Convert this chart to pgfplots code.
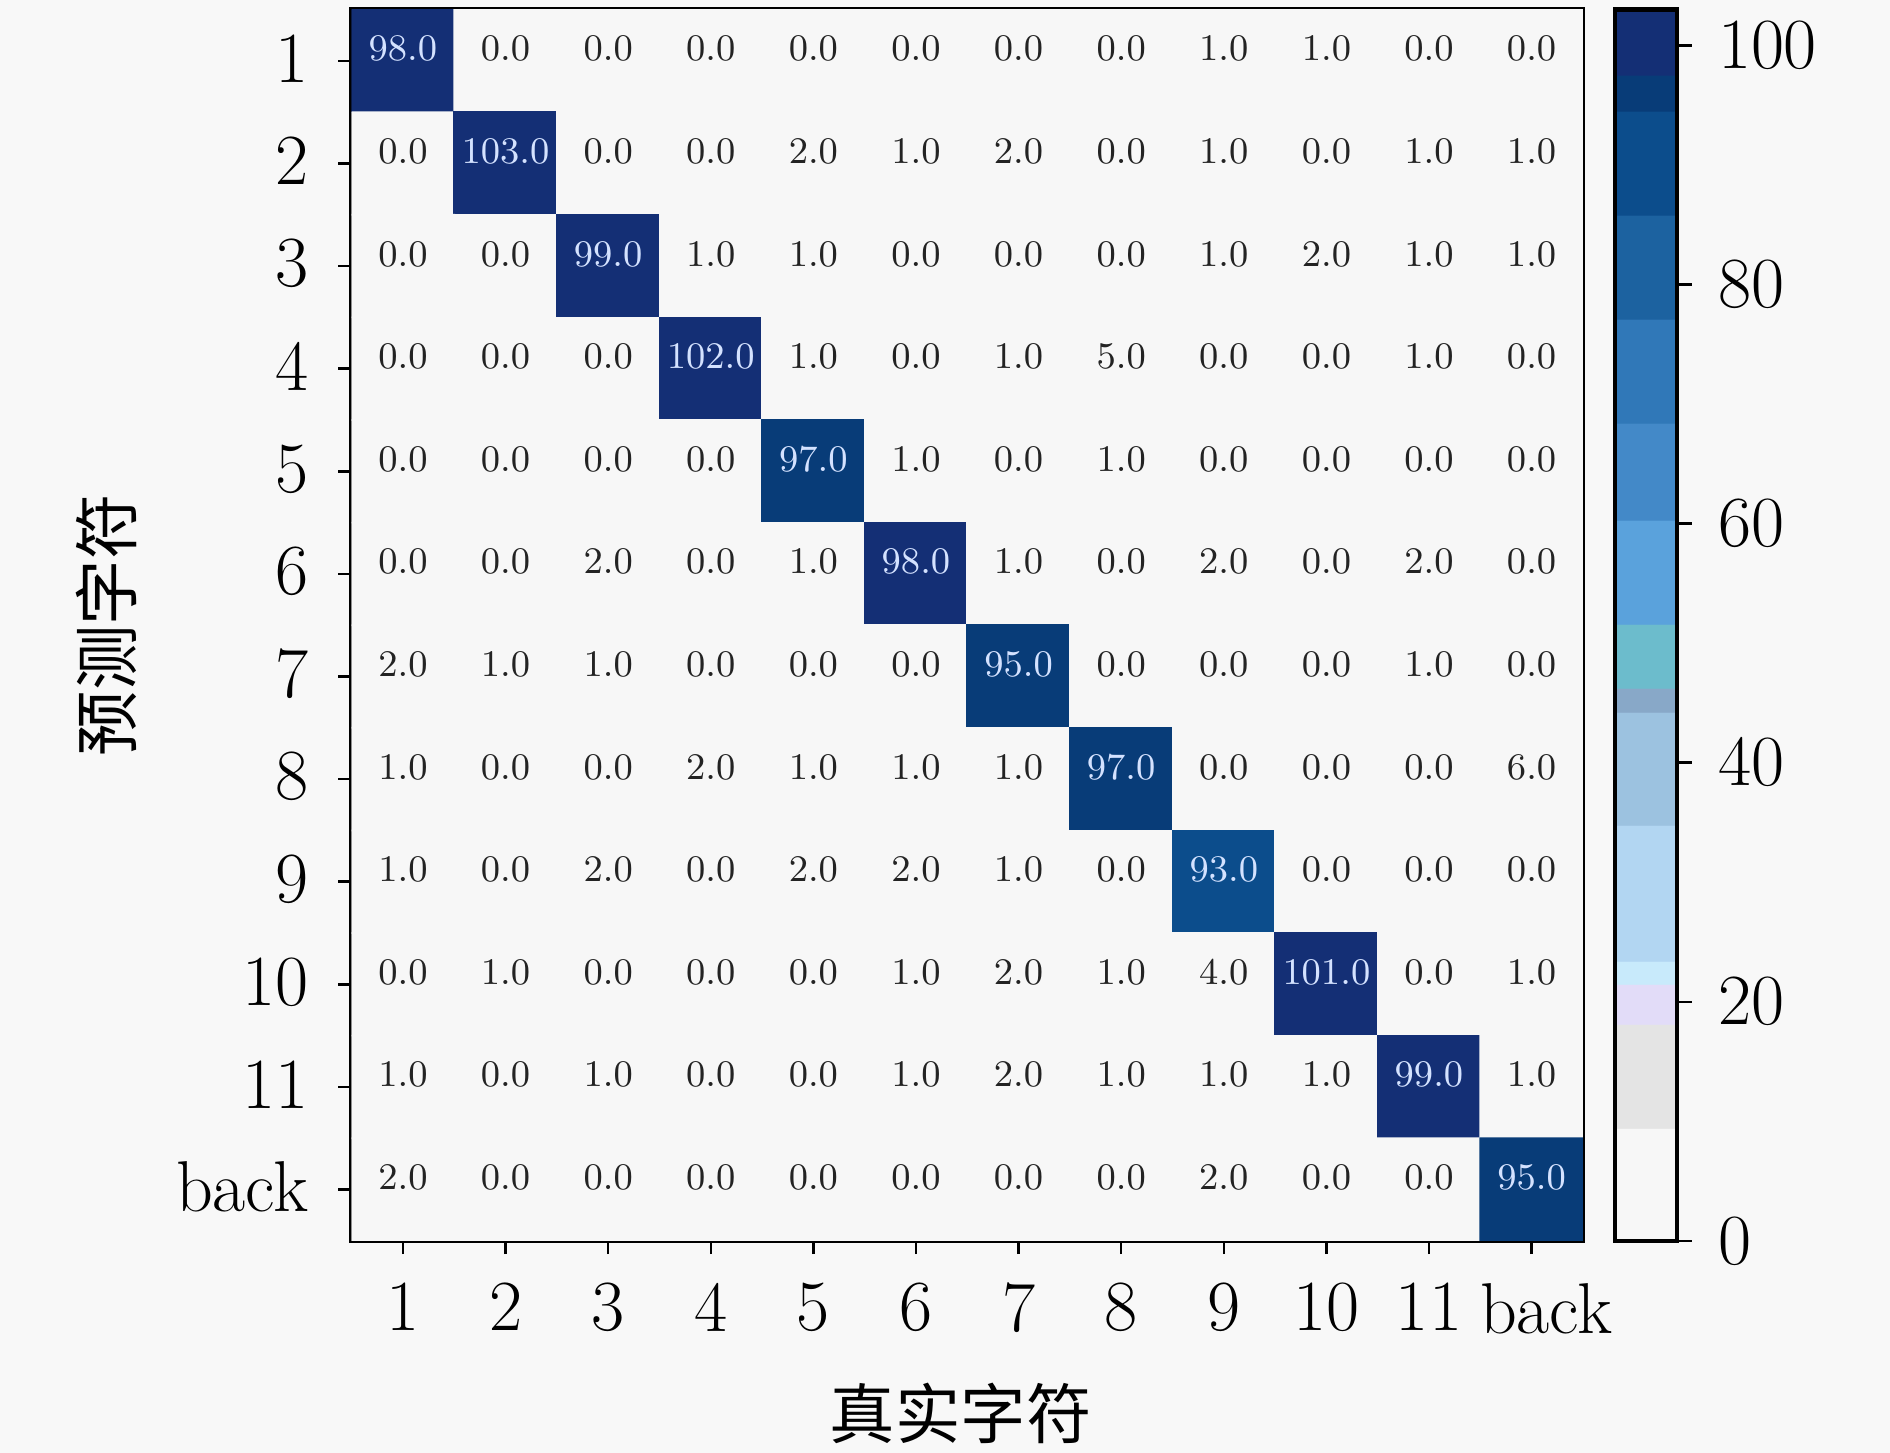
\documentclass[border=0pt]{standalone}
\usepackage{fontspec}
\newfontfamily\cjk{Noto Sans CJK SC}
\usepackage{pgfplots}
\usepackage{pgfplotstable}
\pgfplotsset{compat=1.18}
\definecolor{bg}{RGB}{248,248,248}
\definecolor{diagtxt}{RGB}{212,226,255}
\definecolor{offtxt}{RGB}{35,35,35}
% full confusion matrix: x = true class, y = predicted class
\pgfplotstableread{
x y v
0 0 98
1 0 0
2 0 0
3 0 0
4 0 0
5 0 0
6 0 0
7 0 0
8 0 1
9 0 1
10 0 0
11 0 0
0 1 0
1 1 103
2 1 0
3 1 0
4 1 2
5 1 1
6 1 2
7 1 0
8 1 1
9 1 0
10 1 1
11 1 1
0 2 0
1 2 0
2 2 99
3 2 1
4 2 1
5 2 0
6 2 0
7 2 0
8 2 1
9 2 2
10 2 1
11 2 1
0 3 0
1 3 0
2 3 0
3 3 102
4 3 1
5 3 0
6 3 1
7 3 5
8 3 0
9 3 0
10 3 1
11 3 0
0 4 0
1 4 0
2 4 0
3 4 0
4 4 97
5 4 1
6 4 0
7 4 1
8 4 0
9 4 0
10 4 0
11 4 0
0 5 0
1 5 0
2 5 2
3 5 0
4 5 1
5 5 98
6 5 1
7 5 0
8 5 2
9 5 0
10 5 2
11 5 0
0 6 2
1 6 1
2 6 1
3 6 0
4 6 0
5 6 0
6 6 95
7 6 0
8 6 0
9 6 0
10 6 1
11 6 0
0 7 1
1 7 0
2 7 0
3 7 2
4 7 1
5 7 1
6 7 1
7 7 97
8 7 0
9 7 0
10 7 0
11 7 6
0 8 1
1 8 0
2 8 2
3 8 0
4 8 2
5 8 2
6 8 1
7 8 0
8 8 93
9 8 0
10 8 0
11 8 0
0 9 0
1 9 1
2 9 0
3 9 0
4 9 0
5 9 1
6 9 2
7 9 1
8 9 4
9 9 101
10 9 0
11 9 1
0 10 1
1 10 0
2 10 1
3 10 0
4 10 0
5 10 1
6 10 2
7 10 1
8 10 1
9 10 1
10 10 99
11 10 1
0 11 2
1 11 0
2 11 0
3 11 0
4 11 0
5 11 0
6 11 0
7 11 0
8 11 2
9 11 0
10 11 0
11 11 95
}\cm
% diagonal cells (light text)
\pgfplotstableread{
x y v
0 0 98
1 1 103
2 2 99
3 3 102
4 4 97
5 5 98
6 6 95
7 7 97
8 8 93
9 9 101
10 10 99
11 11 95
}\cmdiag
% off-diagonal cells (dark text)
\pgfplotstableread{
x y v
1 0 0
2 0 0
3 0 0
4 0 0
5 0 0
6 0 0
7 0 0
8 0 1
9 0 1
10 0 0
11 0 0
0 1 0
2 1 0
3 1 0
4 1 2
5 1 1
6 1 2
7 1 0
8 1 1
9 1 0
10 1 1
11 1 1
0 2 0
1 2 0
3 2 1
4 2 1
5 2 0
6 2 0
7 2 0
8 2 1
9 2 2
10 2 1
11 2 1
0 3 0
1 3 0
2 3 0
4 3 1
5 3 0
6 3 1
7 3 5
8 3 0
9 3 0
10 3 1
11 3 0
0 4 0
1 4 0
2 4 0
3 4 0
5 4 1
6 4 0
7 4 1
8 4 0
9 4 0
10 4 0
11 4 0
0 5 0
1 5 0
2 5 2
3 5 0
4 5 1
6 5 1
7 5 0
8 5 2
9 5 0
10 5 2
11 5 0
0 6 2
1 6 1
2 6 1
3 6 0
4 6 0
5 6 0
7 6 0
8 6 0
9 6 0
10 6 1
11 6 0
0 7 1
1 7 0
2 7 0
3 7 2
4 7 1
5 7 1
6 7 1
8 7 0
9 7 0
10 7 0
11 7 6
0 8 1
1 8 0
2 8 2
3 8 0
4 8 2
5 8 2
6 8 1
7 8 0
9 8 0
10 8 0
11 8 0
0 9 0
1 9 1
2 9 0
3 9 0
4 9 0
5 9 1
6 9 2
7 9 1
8 9 4
10 9 0
11 9 1
0 10 1
1 10 0
2 10 1
3 10 0
4 10 0
5 10 1
6 10 2
7 10 1
8 10 1
9 10 1
11 10 1
0 11 2
1 11 0
2 11 0
3 11 0
4 11 0
5 11 0
6 11 0
7 11 0
8 11 2
9 11 0
10 11 0
}\cmoff
\begin{document}
\begin{tikzpicture}
\fill[bg] (-84.4pt,-50.9pt) rectangle (369.2pt,297.8pt);
\begin{axis}[
  at={(0pt,0pt)}, anchor=south west,
  width=295.5pt, height=295.5pt, scale only axis,
  xmin=-0.5, xmax=11.5, ymin=-0.5, ymax=11.5, y dir=reverse,
  xtick={0,1,2,3,4,5,6,7,8,9,10,11},
  ytick={0,1,2,3,4,5,6,7,8,9,10,11},
  xticklabels={1,2,3,4,5,6,7,8,9,10,11,\hspace*{7pt}back},
  yticklabels={1,2,3,4,5,6,7,8,9,10,11,back},
  xtick pos=bottom, ytick pos=left, tick align=outside,
  major tick length=3.2pt,
  major tick style={line width=0.6pt, black},
  axis line style={line width=1.1pt, black},
  tick label style={font=\fontsize{17.28}{20}\selectfont},
  xticklabel style={yshift=-3.4pt},
  yticklabel style={xshift=-3.7pt, yshift=0.6pt},
  xlabel={\cjk 真实字符},
  ylabel={\cjk 预测字符},
  xlabel style={font=\fontsize{15.7}{18}\selectfont, at={(axis description cs:0.5,0)}, anchor=center, yshift=-41.5pt, xshift=-1.6pt},
  ylabel style={font=\fontsize{15.7}{18}\selectfont, at={(axis description cs:0,0.5)}, anchor=center, yshift=58.8pt},
  colormap={cmc}{
    rgb255(0pt)=(247,247,247) rgb255(9.39pt)=(247,247,247)
    rgb255(9.4pt)=(228,228,228) rgb255(18.09pt)=(228,228,228)
    rgb255(18.1pt)=(226,220,248) rgb255(21.49pt)=(226,220,248)
    rgb255(21.5pt)=(200,234,251) rgb255(23.39pt)=(200,234,251)
    rgb255(23.4pt)=(178,214,242) rgb255(34.79pt)=(178,214,242)
    rgb255(34.8pt)=(156,194,224) rgb255(44.19pt)=(156,194,224)
    rgb255(44.2pt)=(136,168,200) rgb255(46.19pt)=(136,168,200)
    rgb255(46.2pt)=(108,188,204) rgb255(51.59pt)=(108,188,204)
    rgb255(51.6pt)=(90,162,220) rgb255(60.29pt)=(90,162,220)
    rgb255(60.3pt)=(67,137,200) rgb255(68.39pt)=(67,137,200)
    rgb255(68.4pt)=(48,120,184) rgb255(77.09pt)=(48,120,184)
    rgb255(77.1pt)=(28,98,160) rgb255(85.79pt)=(28,98,160)
    rgb255(85.8pt)=(12,77,140) rgb255(94.49pt)=(12,77,140)
    rgb255(94.5pt)=(8,60,120) rgb255(97.49pt)=(8,60,120)
    rgb255(97.5pt)=(20,47,117) rgb255(103pt)=(20,47,117)
  },
  point meta min=0, point meta max=103,
  colorbar,
  colorbar shift/.style={xshift=7.7pt},
  colorbar style={
    at={(parent axis.north east)}, anchor=north west,
    width=14.8pt,
    ytick={0,20,40,60,80,100},
    ytick pos=right, yticklabel pos=right, tick align=outside,
    major tick length=3.6pt,
    major tick style={line width=0.6pt, black},
    axis line style={line width=1pt, black},
    yticklabel style={font=\fontsize{17.28}{20}\selectfont, xshift=2.8pt},
  },
]
\addplot[matrix plot*, mesh/cols=12, point meta=explicit] table[x=x, y=y, meta=v] {\cm};
\addplot[draw=none, mark=none, point meta=explicit,
  nodes near coords={\pgfmathprintnumber[fixed,fixed zerofill,precision=1]{\pgfplotspointmeta}},
  nodes near coords align={center},
  every node near coord/.append style={anchor=base, inner sep=0pt, text=diagtxt, font=\fontsize{9}{10}\selectfont},
] table[x=x, y=y, meta=v] {\cmdiag};
\addplot[draw=none, mark=none, point meta=explicit,
  nodes near coords={\pgfmathprintnumber[fixed,fixed zerofill,precision=1]{\pgfplotspointmeta}},
  nodes near coords align={center},
  every node near coord/.append style={anchor=base, inner sep=0pt, text=offtxt, font=\fontsize{9}{10}\selectfont},
] table[x=x, y=y, meta=v] {\cmoff};
\end{axis}
\pgfresetboundingbox
\path (-84.4pt,-50.9pt) rectangle (369.2pt,297.8pt);
\end{tikzpicture}
\end{document}
